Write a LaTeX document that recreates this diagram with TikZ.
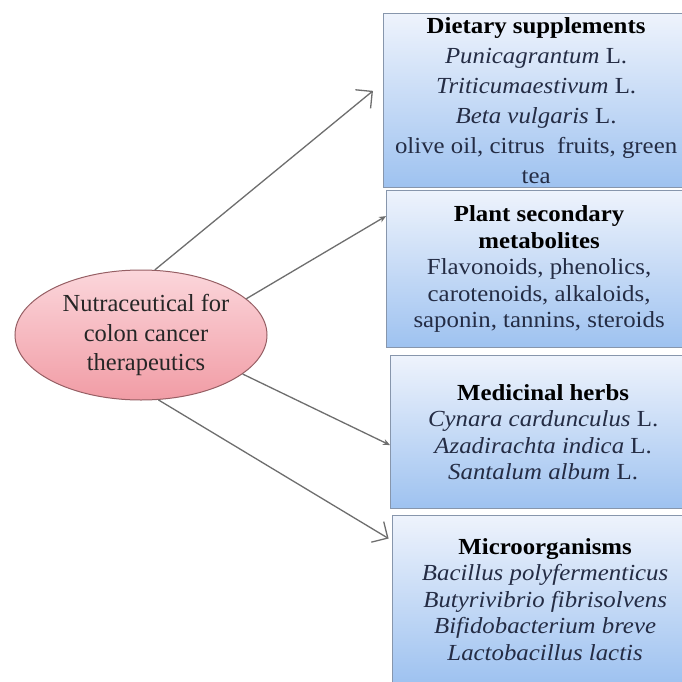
\documentclass[tikz,border=0pt]{standalone}
\usepackage{fontspec}
\setmainfont{Liberation Serif}
\newfontfamily\boxfont[FakeStretch=1.08]{Liberation Serif}
\usetikzlibrary{shapes.geometric,arrows.meta}

\definecolor{boxtop}{RGB}{238,243,252}
\definecolor{boxbot}{RGB}{158,194,240}
\definecolor{boxline}{RGB}{135,150,172}
\definecolor{elltop}{RGB}{251,214,219}
\definecolor{ellbot}{RGB}{241,156,165}
\definecolor{ellline}{RGB}{150,95,100}
\definecolor{arrowgray}{RGB}{110,110,110}
\definecolor{inktext}{RGB}{36,44,68}

\newcommand{\boxhead}[1]{\textbf{\color{black}#1}}

\begin{document}
\begin{tikzpicture}[x=1pt,y=-1pt]

      \clip (0,0) rectangle (682,682);
      \fill[white] (0,0) rectangle (682,682);

      \node[ellipse,draw=ellline,line width=1pt,top color=elltop,bottom color=ellbot,
            minimum width=252pt,minimum height=130pt,inner sep=0pt,align=center,
            text=black!85,font=\fontsize{24.5}{29.5}\selectfont]
            (nutra) at (141,335) {\hspace*{10pt}Nutraceutical for\\\hspace*{10pt}colon cancer\\\hspace*{10pt}therapeutics};

      \begin{scope}[every node/.style={rectangle,draw=boxline,line width=1.2pt,
            top color=boxtop,bottom color=boxbot,anchor=north west,
            minimum width=305pt,inner sep=0pt,align=center,text=inktext,
            font=\boxfont\fontsize{23}{26.5}\selectfont}]
        \node[minimum height=174pt,font=\boxfont\fontsize{23}{30}\selectfont] (diet) at (383,13)
          {\boxhead{Dietary supplements}\\ \textit{Punicagrantum} L.\\
           \textit{Triticumaestivum} L.\\ \textit{Beta vulgaris} L.\\
           olive oil, citrus\ \ fruits, green\\ tea};
        \node[minimum height=157pt] (plant) at (386,190)
          {\boxhead{Plant secondary}\\ \boxhead{metabolites}\\
           Flavonoids, phenolics,\\ carotenoids, alkaloids,\\
           saponin, tannins, steroids};
        \node[minimum height=153pt] (herbs) at (390,355)
          {\boxhead{Medicinal herbs}\\ \textit{Cynara cardunculus} L.\\
           \textit{Azadirachta indica} L.\\ \textit{Santalum album} L.};
        \node[minimum height=168pt] (micro) at (392,515)
          {\boxhead{Microorganisms}\\ \textit{Bacillus polyfermenticus}\\
           \textit{Butyrivibrio fibrisolvens}\\ \textit{Bifidobacterium breve}\\
           \textit{Lactobacillus lactis}};
      \end{scope}

      \begin{scope}[every edge/.style={draw=arrowgray,line width=1.3pt}]
        \path (nutra.78)  edge[-{Straight Barb[length=12pt,width=24pt]},shorten >=13pt]
              ([yshift=18pt]diet.west);
        \path (nutra.19)  edge[-{Stealth[length=7pt,width=6pt]}]
              ([yshift=53pt]plant.west);
        \path (nutra.-21) edge[-{Stealth[length=7pt,width=6pt]}]
              ([yshift=-13pt]herbs.west);
        \path (nutra.-75) edge[-{Straight Barb[length=12pt,width=24pt]},shorten >=4pt]
              ([yshift=59pt]micro.west);
      \end{scope}

    \end{tikzpicture}
\end{document}
